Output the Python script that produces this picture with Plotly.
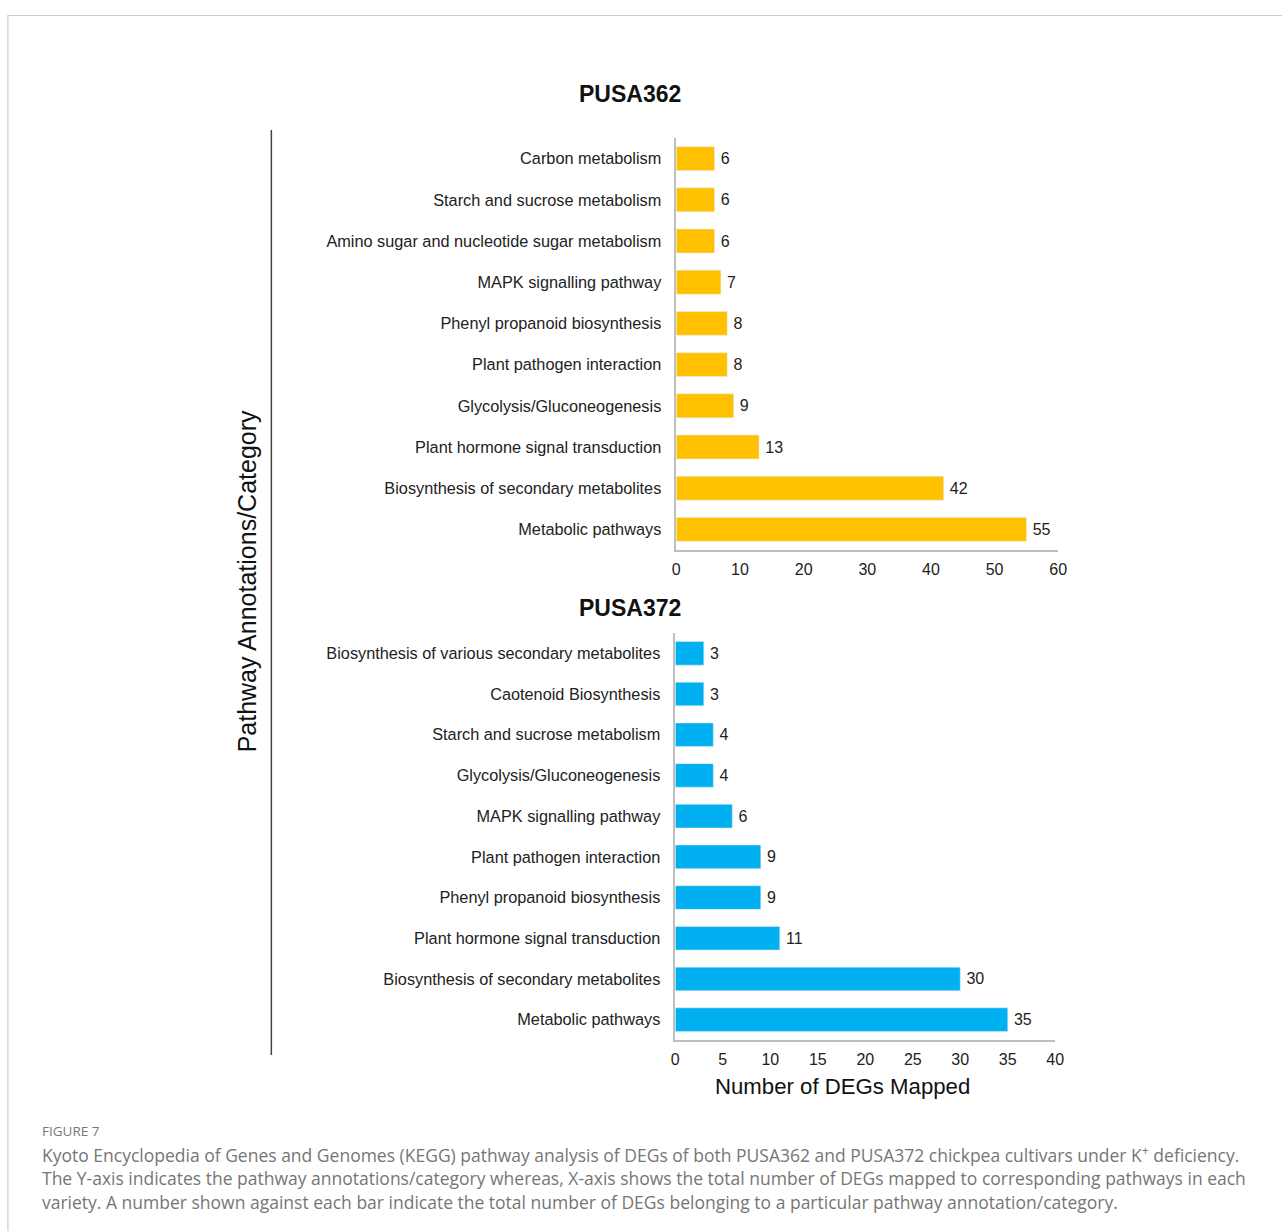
import plotly.graph_objects as go

W, H = 1282, 1231

cats_362 = ["Carbon metabolism", "Starch and sucrose metabolism",
            "Amino sugar and nucleotide sugar metabolism", "MAPK signalling pathway",
            "Phenyl propanoid biosynthesis", "Plant pathogen interaction",
            "Glycolysis/Gluconeogenesis", "Plant hormone signal transduction",
            "Biosynthesis of secondary metabolites", "Metabolic pathways"]
vals_362 = [6, 6, 6, 7, 8, 8, 9, 13, 42, 55]

cats_372 = ["Biosynthesis of various secondary metabolites", "Caotenoid Biosynthesis",
            "Starch and sucrose metabolism", "Glycolysis/Gluconeogenesis",
            "MAPK signalling pathway", "Plant pathogen interaction",
            "Phenyl propanoid biosynthesis", "Plant hormone signal transduction",
            "Biosynthesis of secondary metabolites", "Metabolic pathways"]
vals_372 = [3, 3, 4, 4, 6, 9, 9, 11, 30, 35]

ticks_362 = [0, 10, 20, 30, 40, 50, 60]
ticks_372 = [0, 5, 10, 15, 20, 25, 30, 35, 40]

caption_lines = [
    "Kyoto Encyclopedia of Genes and Genomes (KEGG) pathway analysis of DEGs of both PUSA362 and PUSA372 chickpea cultivars under K<sup>+</sup> deficiency.",
    "The Y-axis indicates the pathway annotations/category whereas, X-axis shows the total number of DEGs mapped to corresponding pathways in each",
    "variety. A number shown against each bar indicate the total number of DEGs belonging to a particular pathway annotation/category.",
]


def px(x):
    # map a target pixel column to a paper fraction (compensating observed horizontal render scale)
    return ((x - 3.6) / 0.99) / W


def py(y):
    return 1 - y / H


FONT = "Liberation Sans, Arial, sans-serif"
CAP_FONT = "Open Sans, Noto Sans, sans-serif"

fig = go.Figure()
fig.add_trace(go.Bar(x=vals_362, y=cats_362, orientation="h", marker_color="#FFC000",
                     text=["\u2009" + str(v) for v in vals_362], textposition="outside", cliponaxis=False,
                     textfont=dict(size=16, color="#222", family=FONT),
                     xaxis="x", yaxis="y"))
fig.add_trace(go.Bar(x=vals_372, y=cats_372, orientation="h", marker_color="#00B0F0",
                     text=["\u2009" + str(v) for v in vals_372], textposition="outside", cliponaxis=False,
                     textfont=dict(size=16, color="#222", family=FONT),
                     xaxis="x2", yaxis="y2"))

xcommon = dict(showgrid=False, zeroline=False, showline=True, linecolor="#bfbfbf", linewidth=1.5,
               ticks="outside", ticklen=4, tickcolor="rgba(0,0,0,0)",
               tickfont=dict(size=16, color="#222", family=FONT))
ycommon = dict(showgrid=False, zeroline=False, showline=True, linecolor="#bfbfbf", linewidth=1.5,
               ticks="outside", ticklen=10, tickcolor="rgba(0,0,0,0)", autorange="reversed",
               tickfont=dict(size=16.3, color="#222", family=FONT))

fig.update_layout(
    width=W, height=H, margin=dict(l=0, r=0, t=0, b=0),
    paper_bgcolor="white", plot_bgcolor="white", showlegend=False,
    bargap=0.42,
    xaxis=dict(domain=[px(676), px(1058)], range=[0, 60], tickvals=ticks_362, anchor="y", **xcommon),
    yaxis=dict(domain=[py(550), py(138)], anchor="x", **ycommon),
    xaxis2=dict(domain=[px(675), px(1055)], range=[0, 40], tickvals=ticks_372, anchor="y2", **xcommon),
    yaxis2=dict(domain=[py(1040), py(633)], anchor="x2", **ycommon),
)

ann = []
ann.append(dict(text="<b>PUSA362</b>", x=px(630), y=py(94), font=dict(size=23, color="#111", family=FONT)))
ann.append(dict(text="<b>PUSA372</b>", x=px(630), y=py(608), font=dict(size=23, color="#111", family=FONT)))
ann.append(dict(text="Number of DEGs Mapped", x=px(842), y=py(1086), font=dict(size=22.2, color="#111", family=FONT)))
ann.append(dict(text="Pathway Annotations/Category", x=px(247), y=py(581), textangle=-90,
                font=dict(size=25, color="#111", family=FONT)))
for a in ann:
    a.update(xref="paper", yref="paper", showarrow=False, xanchor="center", yanchor="middle")
    fig.add_annotation(**a)

fig.add_annotation(text="FIGURE 7", x=px(40), y=py(1131), xref="paper", yref="paper", showarrow=False,
                   xanchor="left", yanchor="middle", font=dict(size=13.5, color="#777", family=CAP_FONT))
for i, line in enumerate(caption_lines):
    fig.add_annotation(text=line, x=px(40), y=py(1154 + 24 * i), xref="paper", yref="paper", showarrow=False,
                       xanchor="left", yanchor="middle", font=dict(size=17.5, color="#767676", family=CAP_FONT))

fig.add_shape(type="line", xref="paper", yref="paper", x0=px(271), x1=px(271), y0=py(130), y1=py(1055),
              line=dict(color="#444", width=1.5))
fig.add_shape(type="rect", xref="paper", yref="paper", x0=px(7.5), x1=px(1300), y0=py(15.5), y1=py(1250),
              line=dict(color="#cccccc", width=1.2))

fig.write_html("out.html")
